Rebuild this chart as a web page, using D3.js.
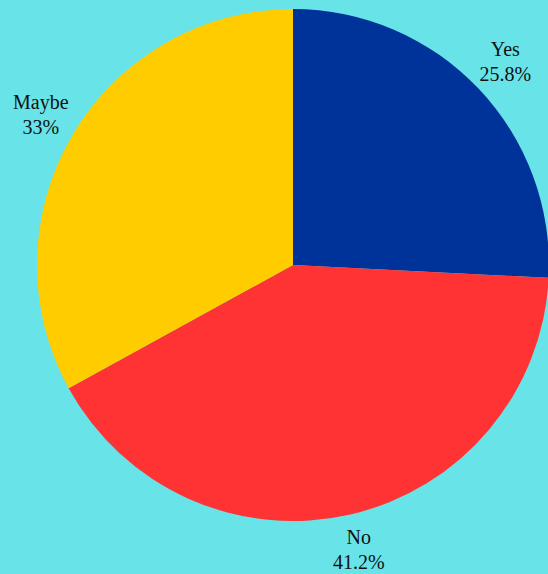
<!DOCTYPE html>
<html>
<head>
<meta charset="utf-8">
<script src="https://cdn.jsdelivr.net/npm/d3@7"></script>
<style>
  html, body { margin: 0; padding: 0; background: #68e3e8; }
  svg { display: block; }
</style>
</head>
<body>
<svg id="chart" width="548" height="574"></svg>
<script>
// Survey answers and their shares (percent)
const categories = ["Yes", "No", "Maybe"];
const shares = [25.8, 41.2, 33];
const labels = ["25.8%", "41.2%", "33%"];
const colors = ["#00339a", "#ff3333", "#ffcc00"];

const width = 548, height = 574;
const cx = 293, cy = 265, radius = 256, labelRadius = 293;

const svg = d3.select("#chart");
svg.append("rect").attr("width", width).attr("height", height).attr("fill", "#68e3e8");

const data = categories.map((c, i) => ({ name: c, value: shares[i], label: labels[i], color: colors[i] }));

const pie = d3.pie().value(d => d.value).sort(null);
const arc = d3.arc().innerRadius(0).outerRadius(radius);
const labelArc = d3.arc().innerRadius(labelRadius).outerRadius(labelRadius);

const g = svg.append("g").attr("transform", `translate(${cx},${cy})`);
const arcs = pie(data);

g.selectAll("path.slice")
  .data(arcs)
  .join("path")
  .attr("class", "slice")
  .attr("d", arc)
  .attr("fill", d => d.data.color);

// Two-line labels: category name above its percentage
const text = g.selectAll("text.lbl")
  .data(arcs)
  .join("text")
  .attr("class", "lbl")
  .attr("transform", d => `translate(${labelArc.centroid(d)})`)
  .attr("text-anchor", "middle")
  .attr("font-family", "'Liberation Serif', serif")
  .attr("font-size", 20)
  .attr("fill", "#111");

text.append("tspan").attr("x", 0).attr("dy", -7).text(d => d.data.name);
text.append("tspan").attr("x", 0).attr("dy", 25).text(d => d.data.label);
</script>
</body>
</html>
